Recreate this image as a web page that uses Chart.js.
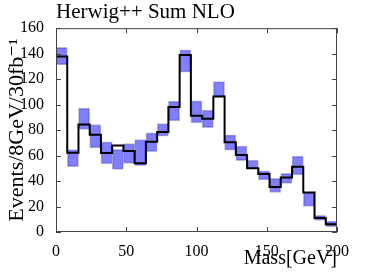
<!DOCTYPE html>
<html>
<head>
<meta charset="utf-8">
<script src="https://cdn.jsdelivr.net/npm/chart.js@4.4.1/dist/chart.umd.min.js"></script>
<style>
  html, body { margin: 0; padding: 0; background: #fff; }
  #wrap { width: 374px; height: 280px; }
</style>
</head>
<body>
<div id="wrap"><canvas id="massChart"></canvas></div>
<script>
// bin low edges (GeV), 8 GeV wide
const binEdges = [0, 8, 16, 24, 32, 40, 48, 56, 64, 72, 80, 88, 96, 104, 112, 120, 128, 136, 144, 152, 160, 168, 176, 184, 192];
const binWidth = 8;

// central NLO prediction
const nominal = [137.7, 62.2, 84.4, 76.3, 62, 68, 63.5, 54, 70.8, 78.6, 98.1, 139, 91.3, 89, 106.3, 70.5, 60.4, 50, 45.5, 35.3, 42.8, 51.3, 31, 10.9, 6];

// uncertainty band
const bandLow = [131.2, 51.3, 80.5, 66.1, 53.4, 49.2, 53.9, 52, 63, 75.2, 87.2, 125.5, 85.6, 82, 106.3, 64.3, 56, 50, 40.9, 31, 38.2, 44.8, 20, 9, 4];
const bandHigh = [145, 64.8, 97.3, 84.4, 70.8, 65, 69.5, 72.6, 77.8, 85.2, 102.8, 143, 103, 95.8, 118, 76.3, 67.5, 56.5, 48, 42.2, 46, 59.6, 31, 13, 8.5];

const xTicks = [0, 50, 100, 150, 200];
const yTicks = [0, 20, 40, 60, 80, 100, 120, 140, 160];

const serif = "'Liberation Serif', 'DejaVu Serif', serif";

const stepPoints = binEdges.map((e, i) => ({ x: e, y: nominal[i] }));
stepPoints.push({ x: binEdges[binEdges.length - 1] + binWidth, y: nominal[nominal.length - 1] });

const bandBars = binEdges.map((e, i) => ({ x: e + binWidth / 2, y: [bandLow[i], bandHigh[i]] }));

// matplotlib-like frame with inward ticks on all four sides
const framePlugin = {
    id: "frame",
    afterDatasetsDraw(chart) {
        const { ctx, chartArea: a, scales } = chart;
        ctx.save();
        ctx.strokeStyle = "#444";
        ctx.lineWidth = 1;
        ctx.strokeRect(a.left + 0.5, a.top + 0.5, a.right - a.left - 1, a.bottom - a.top - 1);
        ctx.beginPath();
        xTicks.forEach(v => {
            const px = Math.round(scales.x.getPixelForValue(v)) + 0.5;
            ctx.moveTo(px, a.bottom); ctx.lineTo(px, a.bottom - 5);
            ctx.moveTo(px, a.top); ctx.lineTo(px, a.top + 5);
        });
        yTicks.forEach(v => {
            const py = Math.round(scales.y.getPixelForValue(v)) + 0.5;
            ctx.moveTo(a.left, py); ctx.lineTo(a.left + 5, py);
            ctx.moveTo(a.right, py); ctx.lineTo(a.right - 5, py);
        });
        ctx.stroke();
        ctx.restore();
    },
};

const ctx = document.getElementById("massChart").getContext("2d");

new Chart(ctx, {
    type: "bar",
    data: {
        datasets: [
            {
                type: "line",
                label: "Herwig++ Sum NLO",
                data: stepPoints,
                stepped: true,
                borderColor: "#000",
                borderWidth: 2,
                pointRadius: 0,
                fill: false,
                order: 0,
            },
            {
                type: "bar",
                label: "band",
                data: bandBars,
                backgroundColor: "rgba(0, 0, 255, 0.5)",
                borderColor: "rgba(60, 60, 140, 0.35)",
                borderWidth: 1,
                borderSkipped: false,
                barPercentage: 1,
                categoryPercentage: 1,
                order: 1,
            },
        ],
    },
    options: {
        responsive: true,
        maintainAspectRatio: false,
        animation: false,
        layout: { padding: { top: 0, right: 37, bottom: 0, left: 0 } },
        plugins: {
            legend: { display: false },
            tooltip: { enabled: false },
            title: {
                display: true,
                text: "Herwig++ Sum NLO",
                align: "start",
                fullSize: false,
                color: "#000",
                font: { family: serif, size: 21, weight: "normal" },
                padding: { top: 0, bottom: 3 },
            },
        },
        scales: {
            x: {
                type: "linear",
                min: 0,
                max: 200,
                offset: false,
                afterBuildTicks: s => { s.ticks = xTicks.map(v => ({ value: v })); },
                afterFit: s => { s.height = 48; },
                grid: { display: false },
                border: { display: false },
                ticks: { color: "#000", padding: 2, font: { family: serif, size: 16 } },
                title: {
                    display: true,
                    text: "Mass[GeV]",
                    align: "end",
                    color: "#000",
                    font: { family: serif, size: 20 },
                    padding: { top: 0, bottom: 9 },
                },
            },
            y: {
                min: 0,
                max: 160,
                afterBuildTicks: s => { s.ticks = yTicks.map(v => ({ value: v })); },
                afterFit: s => { s.width = 56; },
                grid: { display: false },
                border: { display: false },
                ticks: { color: "#000", padding: 4, font: { family: serif, size: 16 } },
                title: {
                    display: true,
                    text: "Events/8GeV/30fb\u207B\u00B9",
                    color: "#000",
                    font: { family: serif, size: 22 },
                    padding: { top: 4, bottom: 0 },
                },
            },
        },
    },
    plugins: [framePlugin],
});
</script>
</body>
</html>
